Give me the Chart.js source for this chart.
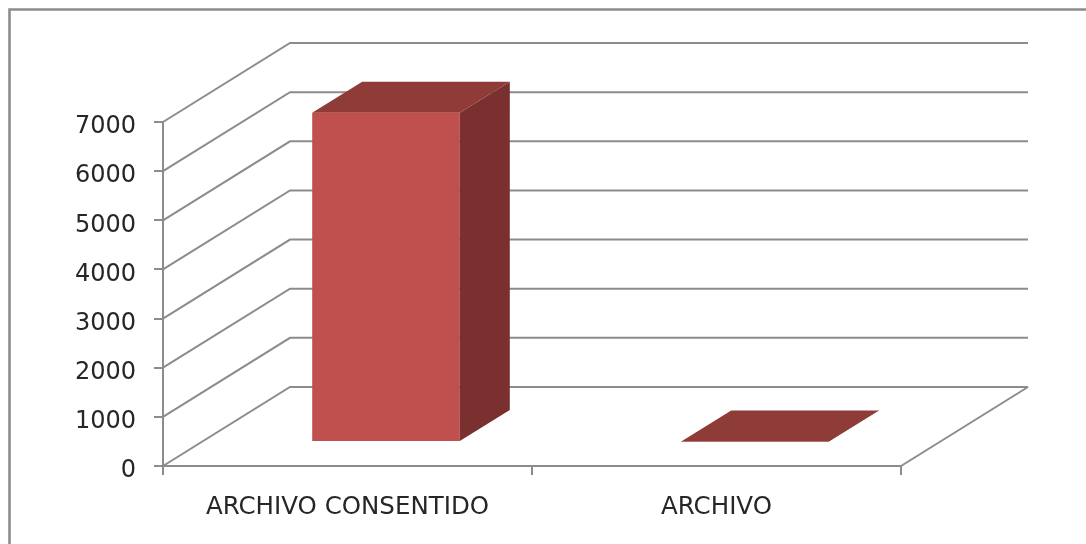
<!DOCTYPE html>
<html>
<head>
<meta charset="utf-8">
<style>
  html, body { margin: 0; padding: 0; background: #fff; overflow: hidden; }
  canvas { display: block; filter: blur(0.5px); }
</style>
<script src="https://cdn.jsdelivr.net/npm/chart.js@4"></script>
</head>
<body>
<canvas id="myChart" width="1086" height="544"></canvas>
<script>
const categories = ['ARCHIVO CONSENTIDO', 'ARCHIVO'];
const archivoValues = [6700, 10];
const yTickMax = 7000;
const yTickStep = 1000;

const lineColor = '#8c8c8c';
const textColor = '#262626';
const frontColor = '#c0504d';
const topColor = '#8f3b38';
const sideColor = '#7a302e';

// depth of the floor and of the bars, in pixels
const wallDx = 127, wallDy = -79;
const barDx = 50, barDy = -31;
const barShiftX = 38.5, barShiftY = -24;

const frame3d = {
    id: 'frame3d',
    beforeDraw(chart) {
        const ctx = chart.ctx;
        ctx.save();
        ctx.fillStyle = '#fff';
        ctx.fillRect(0, 0, chart.width, chart.height);
        ctx.strokeStyle = lineColor;
        ctx.lineWidth = 2.6;
        ctx.beginPath();
        ctx.moveTo(9.5, chart.height + 5);
        ctx.lineTo(9.5, 9.5);
        ctx.lineTo(chart.width + 5, 9.5);
        ctx.stroke();
        ctx.restore();
    },
    beforeDatasetsDraw(chart) {
        const ctx = chart.ctx;
        const y = chart.scales.y;
        const area = chart.chartArea;
        ctx.save();
        ctx.strokeStyle = lineColor;
        ctx.lineWidth = 2;
        y.ticks.forEach(tick => {
            const py = y.getPixelForValue(tick.value);
            ctx.beginPath();
            ctx.moveTo(area.left, py);
            ctx.lineTo(area.left + wallDx, py + wallDy);
            ctx.lineTo(area.right + wallDx, py + wallDy);
            ctx.stroke();
        });
        const zero = y.getPixelForValue(0);
        ctx.beginPath();
        ctx.moveTo(area.right, zero);
        ctx.lineTo(area.right + wallDx, zero + wallDy);
        ctx.stroke();
        ctx.restore();

        // bars stand in the middle of the floor
        ctx.save();
        ctx.translate(barShiftX, barShiftY);
    },
    afterDatasetsDraw(chart) {
        const ctx = chart.ctx;
        chart.getDatasetMeta(0).data.forEach(bar => {
            const left = bar.x - bar.width / 2;
            const right = bar.x + bar.width / 2;
            ctx.fillStyle = sideColor;
            ctx.beginPath();
            ctx.moveTo(right, bar.y);
            ctx.lineTo(right + barDx, bar.y + barDy);
            ctx.lineTo(right + barDx, bar.base + barDy);
            ctx.lineTo(right, bar.base);
            ctx.closePath();
            ctx.fill();
            ctx.fillStyle = topColor;
            ctx.beginPath();
            ctx.moveTo(left, bar.y);
            ctx.lineTo(left + barDx, bar.y + barDy);
            ctx.lineTo(right + barDx, bar.y + barDy);
            ctx.lineTo(right, bar.y);
            ctx.closePath();
            ctx.fill();
        });
        ctx.restore();
    }
};

new Chart(document.getElementById('myChart'), {
    type: 'bar',
    data: {
        labels: categories,
        datasets: [{
            data: archivoValues,
            backgroundColor: frontColor,
            barPercentage: 0.4,
            categoryPercentage: 1
        }]
    },
    plugins: [frame3d],
    options: {
        responsive: false,
        animation: false,
        layout: { padding: { top: 122, right: 185, left: 0, bottom: 0 } },
        plugins: { legend: { display: false }, tooltip: { enabled: false } },
        scales: {
            x: {
                afterFit(scale) { scale.height = 78; },
                border: { color: lineColor, width: 2 },
                grid: { drawOnChartArea: false, color: lineColor, lineWidth: 2, tickLength: 9 },
                ticks: {
                    color: textColor,
                    padding: 18,
                    maxRotation: 0,
                    font: { family: 'DejaVu Sans', size: 24.5 }
                }
            },
            y: {
                min: 0,
                max: yTickMax,
                afterFit(scale) { scale.width = 163; },
                border: { color: lineColor, width: 2 },
                grid: { drawOnChartArea: false, color: lineColor, lineWidth: 2, tickLength: 9 },
                ticks: {
                    stepSize: yTickStep,
                    color: textColor,
                    padding: 18,
                    // blank first line drops the number a little, as in the original
                    callback: value => ['', String(value)],
                    font: { family: 'DejaVu Sans', size: 24, lineHeight: '10px' }
                }
            }
        }
    }
});
</script>
</body>
</html>
